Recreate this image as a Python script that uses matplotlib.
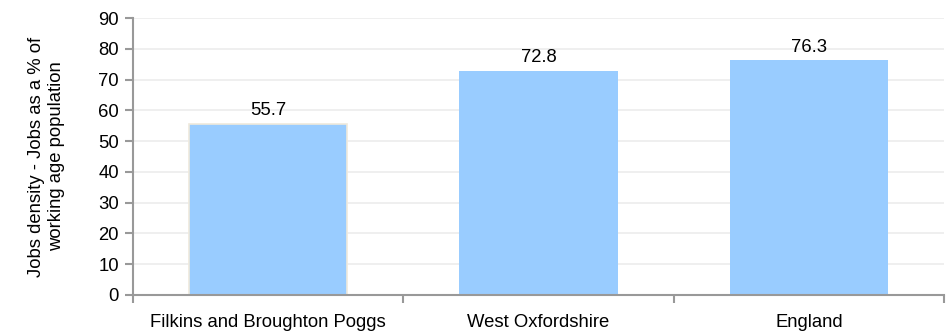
import matplotlib

matplotlib.use("Agg")
import matplotlib.pyplot as plt

areas = ["Filkins and Broughton Poggs", "West Oxfordshire", "England"]
jobs_density = [55.7, 72.8, 76.3]
y_ticks = list(range(0, 100, 10))

plt.rcParams["font.family"] = ["Liberation Sans", "DejaVu Sans"]
plt.rcParams["font.size"] = 13.3

fig = plt.figure(figsize=(9.47, 3.34), dpi=100)
ax = fig.add_axes([0.1404, 0.1168, 0.8566, 0.8292])

x = range(len(areas))
edges = ["#efe9dc", "none", "none"]
bars = ax.bar(x, jobs_density, 0.585, color="#99ccff", edgecolor=edges, linewidth=1.2, zorder=2)

for i, v in enumerate(jobs_density):
    ax.text(i, v + 1.5, f"{v:.1f}", ha="center", va="bottom", fontsize=13.3)

ax.set_xlim(-0.5, 2.5)
ax.set_ylim(0, 90)
ax.set_yticks(y_ticks)
ax.yaxis.grid(True, color="#ececec", linewidth=1.2, zorder=0)
ax.set_axisbelow(True)

# category labels sit between the boundary tick marks
ax.set_xticks([-0.5, 0.5, 1.5, 2.5])
ax.set_xticklabels([])
ax.set_xticks(list(x), minor=True)
ax.set_xticklabels(areas, minor=True)
ax.tick_params(axis="x", which="minor", length=0, pad=14, labelsize=13.3)
ax.tick_params(axis="x", which="major", length=6, color="#999999", width=1.5)
ax.tick_params(axis="y", length=6, color="#999999", width=1.5, labelsize=13.3, pad=4)

for side in ["top", "right"]:
    ax.spines[side].set_visible(False)
for side in ["left", "bottom"]:
    ax.spines[side].set_color("#999999")
    ax.spines[side].set_linewidth(1.5)

ax.set_ylabel("Jobs density - Jobs as a % of\nworking age population", fontsize=13.3, labelpad=24)

fig.savefig("out.png", dpi=100)
